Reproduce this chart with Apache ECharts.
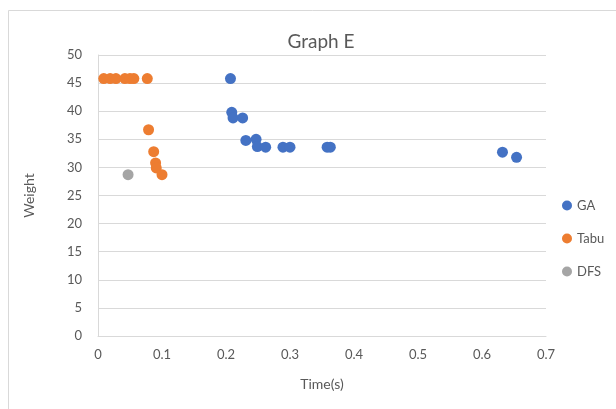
<!DOCTYPE html>
<html>
<head>
<meta charset="utf-8">
<script src="https://cdn.jsdelivr.net/npm/echarts@6/dist/echarts.min.js"></script>
<style>html,body{margin:0;padding:0;background:#fff}#c{width:616px;height:409px}</style>
</head>
<body>
<div id="c"></div>
<script>
const seriesNames = ['GA', 'Tabu', 'DFS'];
const gaTime = [0.207, 0.209, 0.211, 0.226, 0.231, 0.247, 0.249, 0.262, 0.289, 0.300, 0.358, 0.363, 0.632, 0.654];
const gaWeight = [45.8, 39.8, 38.8, 38.8, 34.8, 35.0, 33.7, 33.6, 33.6, 33.6, 33.6, 33.6, 32.7, 31.8];
const tabuTime = [0.009, 0.019, 0.028, 0.042, 0.050, 0.056, 0.077, 0.079, 0.087, 0.090, 0.091, 0.100];
const tabuWeight = [45.8, 45.8, 45.8, 45.8, 45.8, 45.8, 45.8, 36.7, 32.8, 30.8, 29.9, 28.7];
const dfsTime = [0.047];
const dfsWeight = [28.7];
const xTicks = ['0', '0.1', '0.2', '0.3', '0.4', '0.5', '0.6', '0.7'];
const colors = ['#4472C4', '#ED7D31', '#A5A5A5'];

const zip = (a, b) => a.map((v, i) => [v, b[i]]);
const font = 'Lato, "Open Sans", sans-serif';
const chart = echarts.init(document.getElementById('c'), null, {renderer: 'canvas'});
chart.setOption({
  animation: false,
  backgroundColor: '#fff',
  color: colors,
  graphic: [{
    type: 'rect', left: 6, top: 8,
    shape: {x: 0, y: 0, width: 660, height: 440},
    style: {fill: 'none', stroke: '#d9d9d9', lineWidth: 1}
  }],
  title: {
    text: 'Graph E', left: 316, top: 27, textAlign: 'center',
    textStyle: {fontFamily: font, fontSize: 19, fontWeight: 'normal', color: '#595959'}
  },
  legend: {
    orient: 'vertical', left: 557, top: 194, itemGap: 20,
    icon: 'circle', itemWidth: 10, itemHeight: 10,
    data: seriesNames,
    textStyle: {fontFamily: font, fontSize: 13, color: '#595959'}
  },
  grid: {left: 98, right: 70, top: 55, bottom: 73},
  xAxis: {
    type: 'value', min: 0, max: 0.7, interval: 0.1,
    name: 'Time(s)', nameLocation: 'middle', nameGap: 41,
    nameTextStyle: {fontFamily: font, fontSize: 14, color: '#595959'},
    axisLine: {show: true, lineStyle: {color: '#d9d9d9'}},
    axisTick: {show: false},
    splitLine: {show: false},
    axisLabel: {
      fontFamily: font, fontSize: 13, color: '#595959', margin: 12,
      formatter: (v) => xTicks[Math.round(v * 10)]
    }
  },
  yAxis: {
    type: 'value', min: 0, max: 50, interval: 5,
    name: 'Weight', nameLocation: 'middle', nameGap: 62, nameRotate: 90,
    nameTextStyle: {fontFamily: font, fontSize: 14, color: '#595959'},
    axisLine: {show: true, lineStyle: {color: '#d9d9d9'}},
    axisTick: {show: false},
    splitLine: {show: true, lineStyle: {color: '#d9d9d9'}},
    axisLabel: {fontFamily: font, fontSize: 13, color: '#595959', margin: 16}
  },
  series: [
    {name: seriesNames[0], type: 'scatter', symbolSize: 11, itemStyle: {opacity: 1}, data: zip(gaTime, gaWeight)},
    {name: seriesNames[1], type: 'scatter', symbolSize: 11, itemStyle: {opacity: 1}, data: zip(tabuTime, tabuWeight)},
    {name: seriesNames[2], type: 'scatter', symbolSize: 11, itemStyle: {opacity: 1}, data: zip(dfsTime, dfsWeight)}
  ]
});
</script>
</body>
</html>
